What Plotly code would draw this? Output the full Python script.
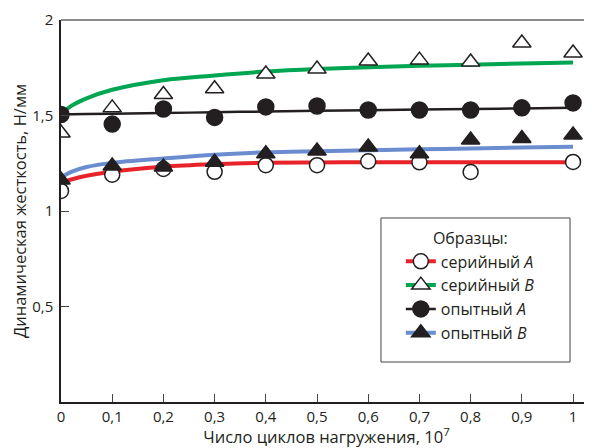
import plotly.graph_objects as go

# measured points
x_pts = [0, 0.1, 0.2, 0.3, 0.4, 0.5, 0.6, 0.7, 0.8, 0.9, 1.0]
ser_A_x = [0, 0.1, 0.2, 0.3, 0.4, 0.5, 0.6, 0.7, 0.8, 1.0]
ser_A = [1.105, 1.19, 1.22, 1.205, 1.24, 1.24, 1.26, 1.255, 1.204, 1.257]
ser_B = [1.408, 1.54, 1.61, 1.64, 1.717, 1.743, 1.785, 1.79, 1.78, 1.88, 1.827]
exp_A = [1.505, 1.455, 1.534, 1.49, 1.545, 1.55, 1.529, 1.529, 1.529, 1.54, 1.566]
exp_B = [1.162, 1.236, 1.23, 1.255, 1.30, 1.314, 1.335, 1.30, 1.372, 1.38, 1.398]

# trend curves
x_fit = [0, 0.02, 0.05, 0.1, 0.2, 0.3, 0.4, 0.5, 0.6, 0.7, 0.8, 0.9, 1.0]
fit_ser_A = [1.148, 1.165, 1.185, 1.206, 1.232, 1.245, 1.252, 1.254, 1.255, 1.255, 1.255, 1.255, 1.255]
fit_ser_B = [1.505, 1.55, 1.59, 1.635, 1.685, 1.71, 1.73, 1.743, 1.752, 1.76, 1.766, 1.772, 1.778]
fit_exp_A = [1.507, 1.507, 1.508, 1.509, 1.513, 1.517, 1.521, 1.525, 1.528, 1.531, 1.534, 1.537, 1.54]
fit_exp_B = [1.175, 1.205, 1.23, 1.252, 1.275, 1.295, 1.307, 1.313, 1.318, 1.323, 1.327, 1.332, 1.336]

names = ["серийный <i>A</i>", "серийный <i>B</i>", "опытный <i>A</i>", "опытный <i>B</i>"]
colors = ["#e8232a", "#00a651", "#231f20", "#6b8dd0"]
line_w = [4, 4, 2.5, 4]
symbols = ["circle", "triangle-up", "circle", "triangle-up"]
fills = ["white", "white", "#231f20", "#231f20"]
msizes = [15, 16, 16, 16]

fits = [fit_ser_A, fit_ser_B, fit_exp_A, fit_exp_B]
pts_x = [ser_A_x, x_pts, x_pts, x_pts]
pts_y = [ser_A, ser_B, exp_A, exp_B]

FONT = "Open Sans"
fig = go.Figure()
for i in range(4):
    fig.add_trace(go.Scatter(x=x_fit, y=fits[i], mode="lines", line=dict(color=colors[i], width=line_w[i], shape="spline"),
                             showlegend=False, hoverinfo="skip"))
for i in range(4):
    fig.add_trace(go.Scatter(x=pts_x[i], y=pts_y[i], mode="markers",
                             marker=dict(symbol=symbols[i], size=msizes[i], color=fills[i],
                                         line=dict(color="#231f20", width=1.5)),
                             showlegend=False))
for i in range(4):
    fig.add_trace(go.Scatter(x=[None], y=[None], mode="lines+markers", name=names[i],
                             line=dict(color=colors[i], width=line_w[i]),
                             marker=dict(symbol=symbols[i], size=msizes[i], color=fills[i],
                                         line=dict(color="#231f20", width=1.5))))

# page body has ~8px margin, so the figure is offset by 8px
fig.update_layout(
    width=584, height=440,
    margin=dict(l=53, r=0, t=12, b=46),
    paper_bgcolor="white", plot_bgcolor="white",
    font=dict(family=FONT, size=15, color="#231f20"),
    legend=dict(x=0.640, y=0.467, xanchor="left", yanchor="top",
                borderwidth=0, bgcolor="rgba(0,0,0,0)",
                title=dict(text="Образцы:", side="top center", font=dict(size=16)),
                font=dict(size=16), entrywidth=100),
    xaxis=dict(range=[0, 1.037], showgrid=False, zeroline=False, automargin=False,
               showline=True, linecolor="#231f20", linewidth=1.5,
               ticks="inside", ticklen=8, tickcolor="#444",
               tickvals=[0, 0.1, 0.2, 0.3, 0.4, 0.5, 0.6, 0.7, 0.8, 0.9, 1.0],
               ticktext=["0", "0,1", "0,2", "0,3", "0,4", "0,5", "0,6", "0,7", "0,8", "0,9", "1"],
               tickfont=dict(size=15),
               title=dict(text="Число циклов нагружения, 10<sup>7</sup>", standoff=2, font=dict(size=16.5))),
    yaxis=dict(range=[0, 2], showgrid=False, zeroline=False, automargin=False,
               showline=True, linecolor="#231f20", linewidth=1.5,
               ticks="inside", ticklen=8, tickcolor="#444", ticklabelstandoff=3,
               tickvals=[0.5, 1, 1.5, 2], ticktext=["0,5", "1", "1,5", "2"],
               tickfont=dict(size=15),
               title=dict(text="Динамическая жесткость, Н/мм", standoff=11, font=dict(size=16.5))),
)
# top frame line
fig.add_shape(type="line", xref="paper", yref="paper", x0=0, x1=1, y0=1, y1=1,
              line=dict(color="#666", width=1.5))
# legend frame
fig.add_shape(type="rect", xref="paper", yref="paper", x0=0.6026, x1=0.9586, y0=0.1047, y1=0.4817,
              line=dict(color="#444", width=1), fillcolor="white", layer="above")
fig.write_html("out.html")
